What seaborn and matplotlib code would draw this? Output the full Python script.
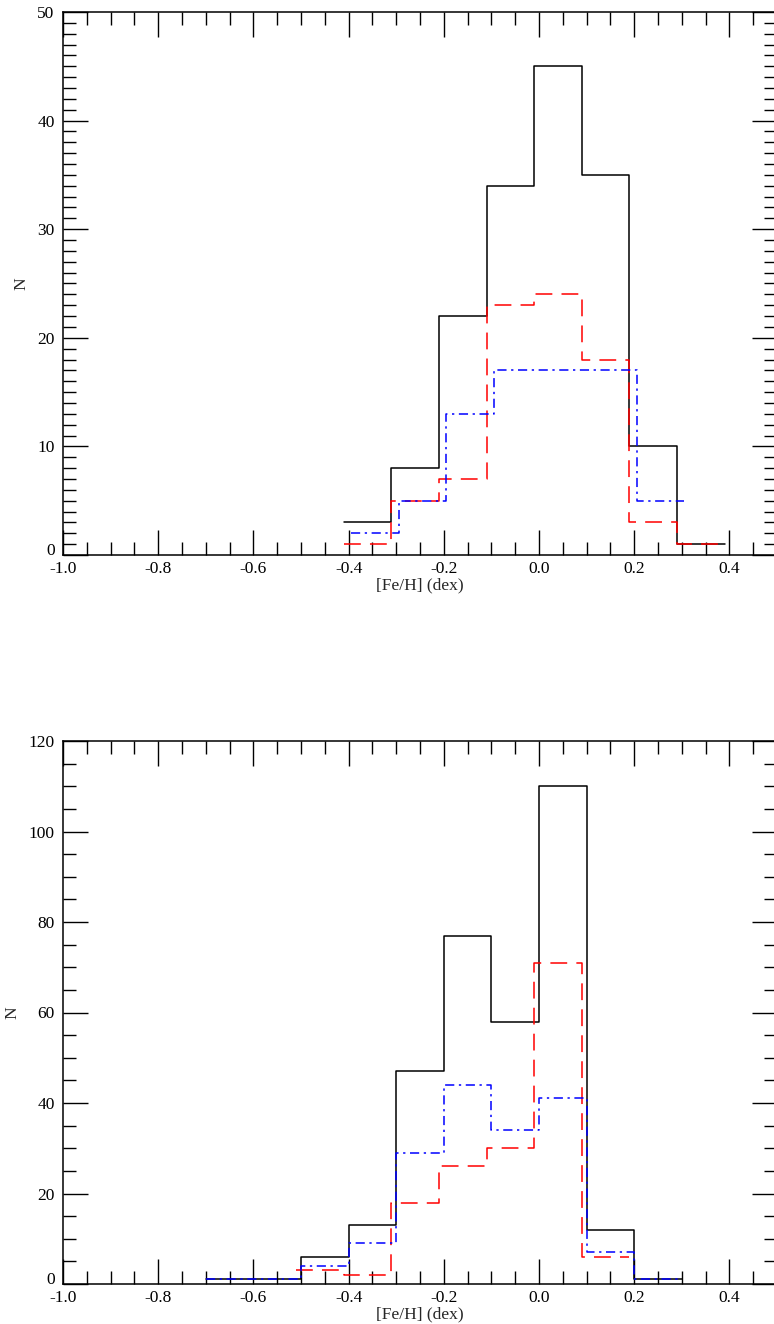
import numpy as np
import pandas as pd
import matplotlib
matplotlib.use("Agg")
import matplotlib.pyplot as plt
import matplotlib.transforms as mtransforms
from matplotlib.ticker import MultipleLocator, FixedLocator
import seaborn as sns

# Metallicity histograms: bin width and left edge of the first bin of each series
BIN_WIDTH = 0.1

# upper panel
top_black_start = -0.41
top_black = [3, 8, 22, 34, 45, 35, 10, 1]
top_red_start = -0.41
top_red = [1, 5, 7, 23, 24, 18, 3, 1]
top_blue_start = -0.395
top_blue = [2, 5, 13, 17, 17, 17, 5]

# lower panel
bot_black_start = -0.70
bot_black = [1, 1, 6, 13, 47, 77, 58, 110, 12, 1]
bot_red_start = -0.51
bot_red = [3, 2, 18, 26, 30, 71, 6]
bot_blue_start = -0.70
bot_blue = [1, 1, 4, 9, 29, 44, 34, 41, 7, 1]

x_major = [-1.0, -0.8, -0.6, -0.4, -0.2, 0.0, 0.2, 0.4]
x_label = "[Fe/H] (dex)"
y_label = "N"

FS = 12.5

sns.set_style("ticks")
plt.rcParams["font.family"] = ["Liberation Serif", "DejaVu Serif"]
plt.rcParams["axes.unicode_minus"] = False
plt.rcParams["font.size"] = FS


def step_frame(start, counts):
    n = len(counts)
    edges = start + BIN_WIDTH * np.arange(n + 1)
    vals = list(counts) + [counts[-1]]
    return pd.DataFrame({"x": edges, "y": vals})


def draw_panel(fig, ax, series, ymax, ymajor, yminor):
    styles = [
        ("black", "-"),
        ("red", (0, (11, 6))),
        ("blue", (0, (6, 3, 1.5, 3))),
    ]
    for (start, counts), (color, ls) in zip(series, styles):
        df = step_frame(start, counts)
        sns.lineplot(data=df, x="x", y="y", ax=ax, color=color,
                     estimator=None, sort=False, drawstyle="steps-post",
                     linewidth=1.1, linestyle=ls)
    ax.set_xlim(-1.0, 0.5)
    ax.set_ylim(0, ymax)
    ax.xaxis.set_major_locator(FixedLocator(x_major))
    ax.xaxis.set_minor_locator(MultipleLocator(0.05))
    ax.set_xticklabels([f"{v:.1f}" for v in x_major])
    yticks = np.arange(0, ymax + 0.1, ymajor)
    ax.yaxis.set_major_locator(FixedLocator(yticks))
    ax.set_yticklabels([f"{int(v)}" for v in yticks])
    ax.yaxis.set_minor_locator(MultipleLocator(yminor))
    ax.tick_params(which="both", direction="in", top=True, right=True,
                   width=1.0, colors="black", labelsize=FS)
    ax.tick_params(which="major", length=18)
    ax.tick_params(which="minor", length=9.5)
    ax.tick_params(axis="x", which="major", pad=4)
    ax.tick_params(axis="y", which="major", pad=6)
    for sp in ax.spines.values():
        sp.set_visible(True)
        sp.set_linewidth(1.1)
        sp.set_color("black")
    ax.set_xlabel(x_label, fontsize=FS, labelpad=0.5)
    ax.set_ylabel(y_label, fontsize=FS, labelpad=5.5)
    # lift the zero label on the y axis clear of the first x label
    zero = ax.get_yticklabels()[0]
    zero.set_transform(zero.get_transform() +
                       mtransforms.ScaledTranslation(0, 4 / 72, fig.dpi_scale_trans))


fig = plt.figure(figsize=(7.74, 13.24), dpi=100)
ax1 = fig.add_axes([63 / 774, 1 - 555 / 1324, 714 / 774, 543 / 1324])
ax2 = fig.add_axes([63 / 774, 1 - 1284 / 1324, 714 / 774, 543 / 1324])

draw_panel(fig, ax1, [(top_black_start, top_black), (top_red_start, top_red),
                      (top_blue_start, top_blue)], 50, 10, 1)
draw_panel(fig, ax2, [(bot_black_start, bot_black), (bot_red_start, bot_red),
                      (bot_blue_start, bot_blue)], 120, 20, 5)

fig.savefig("out.png", dpi=100)
